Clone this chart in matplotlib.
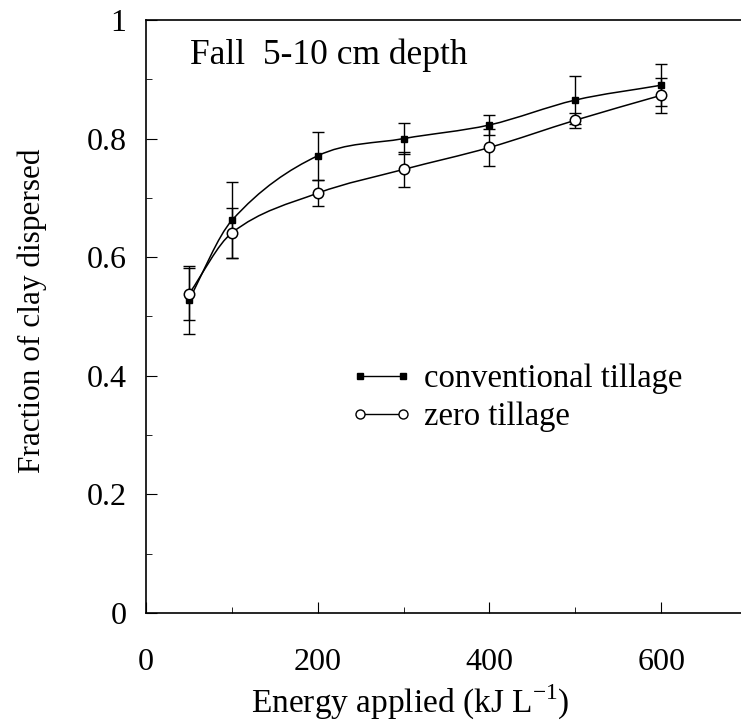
import numpy as np
import matplotlib
matplotlib.use("Agg")
import matplotlib.pyplot as plt
from matplotlib.path import Path
from matplotlib.patches import PathPatch
from matplotlib.lines import Line2D
from matplotlib.ticker import MultipleLocator

plt.rcParams['font.family'] = ['Liberation Serif', 'DejaVu Serif']
plt.rcParams['mathtext.fontset'] = 'custom'
plt.rcParams['mathtext.rm'] = 'Liberation Serif'

# energy applied (kJ/L) and fraction of clay dispersed
energy = [50, 100, 200, 300, 400, 500, 600]
conv_mean = [0.528, 0.662, 0.771, 0.800, 0.823, 0.865, 0.890]
conv_err = [0.058, 0.064, 0.040, 0.026, 0.017, 0.041, 0.035]
zero_mean = [0.538, 0.641, 0.708, 0.748, 0.785, 0.831, 0.873]
zero_err = [0.044, 0.042, 0.022, 0.030, 0.031, 0.013, 0.030]


def smooth_path(x, y, tension=0.5):
    # Catmull-Rom style cubic Bezier through the points
    x = np.asarray(x, float)
    y = np.asarray(y, float)
    n = len(x)
    verts = [(x[0], y[0])]
    codes = [Path.MOVETO]
    for i in range(n - 1):
        i0 = max(i - 1, 0)
        i3 = min(i + 2, n - 1)
        d1 = (x[i + 1] - x[i0], y[i + 1] - y[i0])
        d2 = (x[i3] - x[i], y[i3] - y[i])
        h = x[i + 1] - x[i]
        s1 = h / (x[i + 1] - x[i0])
        s2 = h / (x[i3] - x[i])
        c1 = (x[i] + d1[0] * s1 * tension * 2 / 3, y[i] + d1[1] * s1 * tension * 2 / 3)
        c2 = (x[i + 1] - d2[0] * s2 * tension * 2 / 3, y[i + 1] - d2[1] * s2 * tension * 2 / 3)
        verts += [c1, c2, (x[i + 1], y[i + 1])]
        codes += [Path.CURVE4] * 3
    return Path(verts, codes)


fig = plt.figure(figsize=(7.41, 7.25), dpi=100)
ax = fig.add_axes([146 / 741, 112 / 725, 601 / 741, 593 / 725])

for mean, err in [(conv_mean, conv_err), (zero_mean, zero_err)]:
    ax.add_patch(PathPatch(smooth_path(energy, mean), fill=False, lw=1.1,
                           edgecolor='black', zorder=2))
    ax.errorbar(energy, mean, yerr=err, fmt='none', ecolor='black',
                elinewidth=1.0, capsize=4, capthick=1.0, zorder=3)

ax.plot(energy, conv_mean, ls='none', marker='s', ms=5, color='black', zorder=4)
ax.plot(energy, zero_mean, ls='none', marker='o', ms=7.5, mfc='white',
        mec='black', mew=1.1, zorder=5)

ax.set_xlim(0, 700)
ax.set_ylim(0, 1)
ax.xaxis.set_major_locator(MultipleLocator(200))
ax.xaxis.set_minor_locator(MultipleLocator(100))
ax.yaxis.set_major_locator(MultipleLocator(0.2))
ax.yaxis.set_minor_locator(MultipleLocator(0.1))
ax.set_yticks([0, 0.2, 0.4, 0.6, 0.8, 1.0])
ax.set_yticklabels(['0', '0.2', '0.4', '0.6', '0.8', '1'])
ax.tick_params(which='both', direction='in', labelsize=23, top=False, right=False)
ax.tick_params(axis='y', which='major', length=8, pad=14)
ax.tick_params(axis='x', which='major', length=8, pad=25)
ax.tick_params(which='minor', length=4)

for sp in ax.spines.values():
    sp.set_linewidth(1.2)

ax.set_xlabel(r'Energy applied (kJ L$^{\mathregular{-1}}$)', fontsize=24)
ax.xaxis.set_label_coords(0.44, -0.118)
ax.set_ylabel('Fraction of clay dispersed', fontsize=22.5)
ax.yaxis.set_label_coords(-0.165, 0.51)

ax.text(0.073, 0.925, 'Fall  5-10 cm depth', transform=ax.transAxes,
        fontsize=25.5, va='baseline', ha='left')

handles = [
    Line2D([], [], color='black', lw=1, marker='s', ms=4.5),
    Line2D([], [], color='black', lw=1, marker='o', ms=6.5, mfc='white', mew=1),
]
ax.legend(handles, ['conventional tillage', 'zero tillage'], loc='upper left',
          bbox_to_anchor=(0.339, 0.42), frameon=False, fontsize=23.5,
          numpoints=2, handlelength=1.92, handletextpad=0.37, labelspacing=0.22,
          borderpad=0, borderaxespad=0)

fig.savefig('out.png', dpi=100)
